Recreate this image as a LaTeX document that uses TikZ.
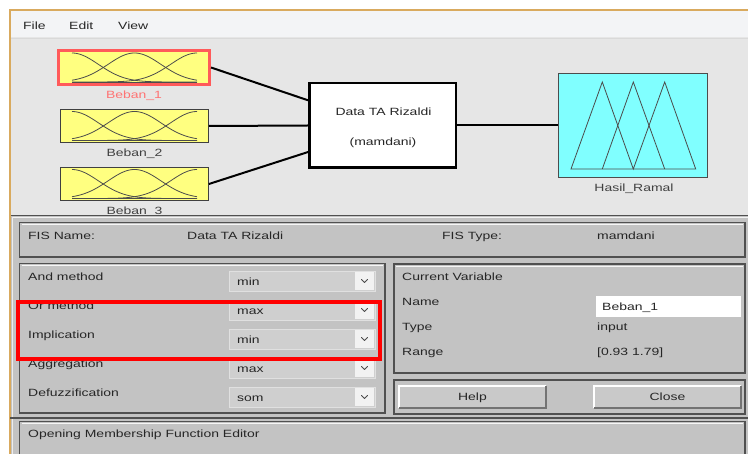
\documentclass[tikz,border=0pt]{standalone}
\usepackage{fontspec}
\setmainfont{Liberation Sans}
\newfontfamily\ui[FakeStretch=1.33]{Liberation Sans}
\usetikzlibrary{calc}
\definecolor{frametan}{HTML}{D9AA5E}
\definecolor{menubg}{HTML}{F3F4F6}
\definecolor{topbg}{HTML}{E6E6E6}
\definecolor{panelbg}{HTML}{C3C3C3}
\definecolor{paneledge}{HTML}{505050}
\definecolor{txt}{HTML}{262626}
\definecolor{mfyellow}{HTML}{FFFF80}
\definecolor{mfcyan}{HTML}{80FFFF}
\definecolor{selred}{HTML}{FF5A5A}
\definecolor{hired}{HTML}{FF0000}
\tikzset{
  lbl/.style={font=\ui\fontsize{10.5}{12}\selectfont, text=txt, inner sep=0},
  mfbox/.style={rectangle, fill=mfyellow, draw=black!75, line width=0.8pt, inner sep=0,
    minimum width=148pt, minimum height=33pt},
  panelbox/.style={fill=panelbg, draw=paneledge, line width=1.3pt},
  panelhi/.style={draw=white!85!panelbg, line width=0.6pt},
  ddbox/.style={fill=black!19, draw=black!12, line width=0.6pt},
  ddbtn/.style={fill=black!5},
  chev/.style={draw=black!70, line width=0.9pt, line cap=round, line join=round},
  conn/.style={draw=black, line width=2pt},
  curve/.style={draw=black!70, line width=0.8pt},
  btnface/.style={fill=black!21},
}
\newcommand{\mfcurves}[1]{% #1 = y of base line
  \foreach \c in {72,134.5,197}{
    \draw[curve] plot[domain=72:197, samples=70, smooth] (\x, {#1 - 29*exp(-((\x-\c)*(\x-\c))/1404.5)});
  }
  \draw[curve] (72,#1) -- (197,#1);
}
\begin{document}
\begin{tikzpicture}[x=1pt,y=-1pt]
\useasboundingbox (0,0) rectangle (748,454);
\clip (0,0) rectangle (748,454);
\fill[white] (0,0) rectangle (748,454);
% window
\fill[topbg] (10,10) rectangle (748,454);
\fill[menubg] (10,10) rectangle (748,37.5);
\draw[black!15, line width=0.8pt] (10,38) -- (748,38);
\draw[frametan, line width=1.6pt] (10,454) -- (10,10) -- (748,10);
% menu
\node[lbl, anchor=base west] (mfile) at (23,29.5) {File};
\node[lbl, anchor=base west] (medit) at (69,29.5) {Edit};
\node[lbl, anchor=base west] (mview) at (118,29.5) {View};

% membership function boxes
\node[mfbox, draw=selred, line width=3pt, minimum width=151pt, minimum height=34pt] (b1) at (134,67.5) {};
\node[mfbox] (b2) at (134.5,126) {};
\node[mfbox] (b3) at (134.5,184) {};
\mfcurves{82}
\mfcurves{140.5}
\mfcurves{198.5}
\node[lbl, text=selred!85, anchor=base] (l1) at (134,98.7) {Beban\_1};
\node[lbl, text=black!75, anchor=base] (l2) at (134.5,156.7) {Beban\_2};
\node[lbl, text=black!75, anchor=base] (l3) at (134.5,214.5) {Beban\_3};

% FIS box
\node[rectangle, fill=white, draw=black, line width=2.5pt, minimum width=146.5pt, minimum height=84.5pt, inner sep=0] (fis) at (382.5,125.5) {};
\node[lbl, anchor=base] (fisname) at (383.5,115.7) {Data TA Rizaldi};
\node[lbl, anchor=base] (fistype) at (383,145.7) {(mamdani)};

% output box
\node[rectangle, fill=mfcyan, draw=black!70, line width=0.8pt, minimum width=149pt, minimum height=104pt, inner sep=0] (out) at (633,125.5) {};
\draw[curve] (571,169) -- (602.3,82) -- (633.3,169) -- (664.7,82) -- (695.7,169) -- cycle;
\draw[curve] (602.3,169) -- (633.3,82) -- (664.7,169);
\node[lbl, text=black!75, anchor=base] (lout) at (634,191.7) {Hasil\_Ramal};

% connectors
\draw[conn] (b1.east) -- ($(fis.north west)!0.21!(fis.south west)$);
\draw[conn] (b2.east) -- (fis.west);
\draw[conn] (b3.east) -- ($(fis.north west)!0.805!(fis.south west)$);
\draw[conn] (fis.east) -- (out.west);

% lower panel
\fill[panelbg] (10,215) rectangle (748,454);
\draw[paneledge, line width=1.3pt] (10,215.5) -- (748,215.5);
\draw[white!80!panelbg, line width=0.6pt] (12,217.5) -- (748,217.5);
\draw[frametan, line width=1.6pt] (10,215) -- (10,454);
\draw[white!70!panelbg, line width=0.8pt] (12,217) -- (12,454);

% FIS name row
\draw[panelbox] (19.5,222.5) rectangle (745,257);
\draw[panelhi] (21.5,224.5) -- (743,224.5);
\node[lbl, anchor=base west] (fisn) at (28,239.7) {FIS Name:};
\node[lbl, anchor=base west] (fisnv) at (187,239.7) {Data TA Rizaldi};
\node[lbl, anchor=base west] (fist) at (442,239.7) {FIS Type:};
\node[lbl, anchor=base west] (fistv) at (597,239.7) {mamdani};

% methods panel
\draw[panelbox] (19.5,263.5) rectangle (385,413);
\draw[panelhi] (21.5,265.5) -- (383,265.5);
\foreach \t/\v/\lab/\ly [count=\i] in {271/min/And method/280.7, 300/max/Or method/309.7, 329/min/Implication/338.7, 358/max/Aggregation/367.7, 387/som/Defuzzification/396.7}{
  \node[lbl, anchor=base west] (ml\i) at (28,\ly) {\lab};
  \path[ddbox] (229,\t) rectangle (375,\t+20);
  \path[ddbtn] (355,\t+1) rectangle (374,\t+19);
  \node[lbl, anchor=base west] (mv\i) at (237,\t+14.5) {\v};
  \draw[chev] (361.5,\t+8.5) -- (364.5,\t+11.5) -- (367.5,\t+8.5);
}
% highlight rectangle
\draw[hired, line width=4pt] (17.5,302) rectangle (380,359.5);

% current variable panel
\draw[panelbox] (394,264) rectangle (745,373);
\draw[panelhi] (396,266) -- (743,266);
\node[lbl, anchor=base west] (cv) at (402,280.7) {Current Variable};
\node[lbl, anchor=base west] (cvn) at (402,305.7) {Name};
\node[lbl, anchor=base west] (cvt) at (402,330.7) {Type};
\node[lbl, anchor=base west] (cvr) at (402,355.7) {Range};
\fill[white] (596,296) rectangle (741,317);
\node[lbl, anchor=base west] (cvnv) at (602,310.7) {Beban\_1};
\node[lbl, anchor=base west] (cvtv) at (597,330.7) {input};
\node[lbl, anchor=base west] (cvrv) at (597,355.7) {[0.93 1.79]};

% buttons panel
\draw[panelbox] (394,380) rectangle (745,414);
\foreach \a/\b/\nm/\tx in {399/546/bhelp/Help, 594/741/bclose/Close}{
  \fill[btnface] (\a,386) rectangle (\b,408);
  \draw[white, line width=1.2pt] (\a,408) -- (\a,386) -- (\b,386);
  \draw[black!55, line width=1.4pt] (\a,408) -- (\b,408) -- (\b,386);
  \node[lbl, anchor=base] (\nm) at ({(\a+\b)/2},400.5) {\tx};
}

% status bar
\draw[paneledge, line width=1.3pt] (10,418) -- (748,418);
\draw[panelbox] (19.5,421.5) rectangle (745,470);
\draw[panelhi] (21.5,423.5) -- (743,423.5);
\node[lbl, anchor=base west] (status) at (28,437.7) {Opening Membership Function Editor};
\end{tikzpicture}
\end{document}
